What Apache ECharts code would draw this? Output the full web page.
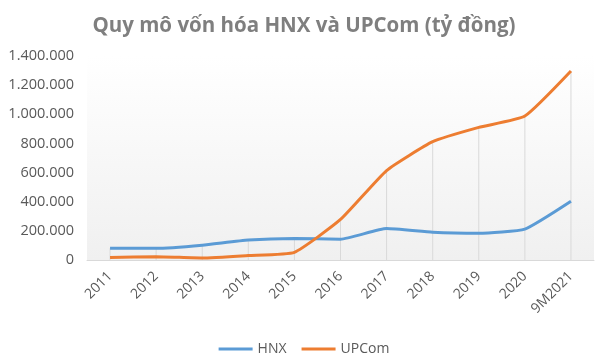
<!DOCTYPE html>
<html lang="vi">
<head>
    <meta charset="UTF-8">
    <title>Quy mô vốn hóa HNX và UPCom</title>
    <script src="https://cdn.jsdelivr.net/npm/echarts@6/dist/echarts.min.js"></script>
    <style>
        html, body {
            margin: 0;
            padding: 0;
            background: #fff;
        }

        #main {
            width: 608px;
            height: 363px;
        }
    </style>
</head>
<body>
<div id="main"></div>
<script>
    var years = ['2011', '2012', '2013', '2014', '2015', '2016', '2017', '2018', '2019', '2020', '9M2021'];
    var hnx = [80000, 80000, 102000, 137000, 148000, 143000, 216000, 191000, 184000, 212000, 403000];
    var upcom = [18000, 23000, 14000, 31000, 53000, 278000, 614000, 812000, 910000, 988000, 1297000];

    // duong giong doc tu diem cao nhat xuong truc
    var dropLines = years.map(function (y, i) {
        return Math.max(hnx[i], upcom[i]);
    });

    function fmt(v) {
        return String(v).replace(/\B(?=(\d{3})+(?!\d))/g, '.');
    }

    var myChart = echarts.init(document.getElementById('main'));
    myChart.setOption({
        animation: false,
        textStyle: {fontFamily: 'Open Sans, DejaVu Sans, sans-serif'},
        title: {
            text: 'Quy mô vốn hóa HNX và UPCom (tỷ đồng)',
            left: 'center',
            top: 11,
            textStyle: {
                fontFamily: 'Open Sans',
                fontSize: 20.5,
                fontWeight: 'bold',
                color: '#7f7f7f'
            }
        },
        legend: {
            bottom: 2,
            left: 'center',
            itemWidth: 34,
            itemHeight: 3,
            itemGap: 15,
            icon: 'rect',
            data: ['HNX', 'UPCom'],
            textStyle: {color: '#595959', fontSize: 14}
        },
        grid: {
            left: 87,
            right: 14,
            top: 56,
            bottom: 103,
            show: true,
            borderWidth: 0,
            backgroundColor: new echarts.graphic.LinearGradient(0, 0, 0, 1, [
                {offset: 0, color: '#ffffff'},
                {offset: 1, color: '#f0f0f0'}
            ])
        },
        xAxis: {
            type: 'category',
            data: years,
            boundaryGap: true,
            axisLine: {lineStyle: {color: '#d9d9d9', width: 1}},
            axisTick: {show: false},
            axisLabel: {rotate: 45, color: '#595959', fontSize: 14, margin: 14, interval: 0}
        },
        yAxis: {
            type: 'value',
            min: 0,
            max: 1400000,
            interval: 200000,
            splitLine: {show: false},
            axisLine: {show: false},
            axisTick: {show: false},
            axisLabel: {
                color: '#595959',
                fontSize: 14.5,
                margin: 13,
                formatter: fmt
            }
        },
        series: [
            {
                name: 'drop',
                type: 'bar',
                data: dropLines,
                barWidth: 1,
                silent: true,
                itemStyle: {color: '#d9d9d9'},
                z: 1
            },
            {
                name: 'HNX',
                type: 'line',
                data: hnx,
                smooth: 0.15,
                showSymbol: false,
                lineStyle: {color: '#5b9bd5', width: 3},
                itemStyle: {color: '#5b9bd5'},
                z: 3
            },
            {
                name: 'UPCom',
                type: 'line',
                data: upcom,
                smooth: 0.15,
                showSymbol: false,
                lineStyle: {color: '#ed7d31', width: 3},
                itemStyle: {color: '#ed7d31'},
                z: 4
            }
        ]
    });
</script>
</body>
</html>
